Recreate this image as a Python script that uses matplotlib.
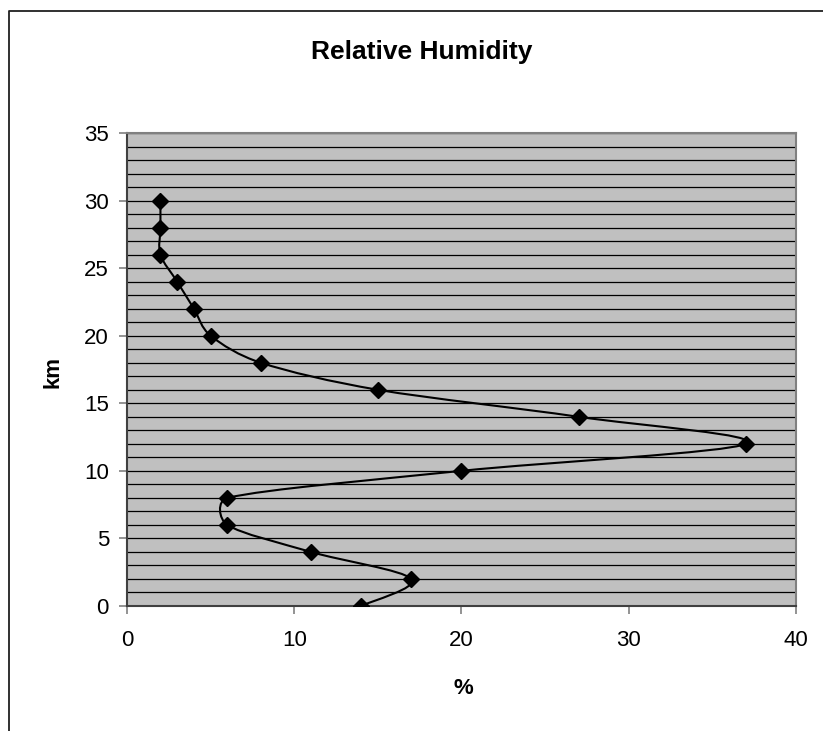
import matplotlib
matplotlib.use("Agg")
import matplotlib.pyplot as plt
from matplotlib.path import Path
from matplotlib.patches import PathPatch
from matplotlib.lines import Line2D
import numpy as np

plt.rcParams['font.family'] = ['Liberation Sans', 'DejaVu Sans']

humidity = [14, 17, 11, 6, 6, 20, 37, 27, 15, 8, 5, 4, 3, 2, 2, 2]
altitude_km = [0, 2, 4, 6, 8, 10, 12, 14, 16, 18, 20, 22, 24, 26, 28, 30]
x_ticks = [0, 10, 20, 30, 40]
y_ticks = [0, 5, 10, 15, 20, 25, 30, 35]
title = "Relative Humidity"
x_label = "%"
y_label = "km"

W, H = 823, 731
fig = plt.figure(figsize=(W / 100, H / 100), dpi=100)
fig.patch.set_facecolor('white')

# outer chart border (left and top edges visible)
fig.add_artist(Line2D([9 / W, 9 / W, 1.01], [-0.01, 1 - 11 / H, 1 - 11 / H],
                      transform=fig.transFigure, color='#202020', lw=1.3))

ax = fig.add_axes([127 / W, (H - 606) / H, (796 - 127) / W, (606 - 133) / H])
ax.set_facecolor('#C0C0C0')
ax.set_xlim(0, 40)
ax.set_ylim(0, 35)

for yv in range(0, 36):
    ax.axhline(yv, color='black', lw=0.9, zorder=1)

# smoothed line (bezier like Excel's smoothing, arm length limited)
sx = (796 - 127) / 40.0
sy = (606 - 133) / 35.0
P = np.column_stack([humidity, altitude_km]).astype(float)
Pp = P * np.array([sx, sy])
n = len(P)
verts = [tuple(P[0])]
codes = [Path.MOVETO]
for i in range(n - 1):
    p0 = Pp[i - 1] if i > 0 else Pp[i]
    p1 = Pp[i]
    p2 = Pp[i + 1]
    p3 = Pp[i + 2] if i + 2 < n else Pp[i + 1]
    seg = np.linalg.norm(p2 - p1)
    a1 = (p2 - p0) / 6.0
    a2 = (p3 - p1) / 6.0
    lim = seg * 0.4
    if np.linalg.norm(a1) > lim:
        a1 = a1 / np.linalg.norm(a1) * lim
    if np.linalg.norm(a2) > lim:
        a2 = a2 / np.linalg.norm(a2) * lim
    c1 = (p1 + a1) / np.array([sx, sy])
    c2 = (p2 - a2) / np.array([sx, sy])
    verts += [tuple(c1), tuple(c2), tuple(P[i + 1])]
    codes += [Path.CURVE4] * 3
ax.add_patch(PathPatch(Path(verts, codes), fill=False, edgecolor='black', lw=1.5, zorder=3))
ax.plot(humidity, altitude_km, linestyle='none', marker='D', color='black', markersize=8, zorder=4)

ax.set_xticks(x_ticks)
ax.set_yticks(y_ticks)
ax.tick_params(axis='both', direction='out', length=6, width=1.2, color='#808080',
               labelsize=16, labelcolor='black')
ax.tick_params(axis='x', pad=11)
ax.tick_params(axis='y', pad=7)
for s in ['left', 'bottom']:
    ax.spines[s].set_color('#404040')
    ax.spines[s].set_linewidth(1.5)
for s in ['top', 'right']:
    ax.spines[s].set_color('#808080')
    ax.spines[s].set_linewidth(1.5)

fig.text(422 / W, 1 - 52 / H, title, ha='center', va='center', fontsize=19, fontweight='bold')
fig.text(53 / W, 1 - 372 / H, y_label, ha='center', va='center', rotation=90, fontsize=16, fontweight='bold')
fig.text(463 / W, 1 - 688 / H, x_label, ha='center', va='center', fontsize=16, fontweight='bold')

fig.savefig('out.png', dpi=100)
